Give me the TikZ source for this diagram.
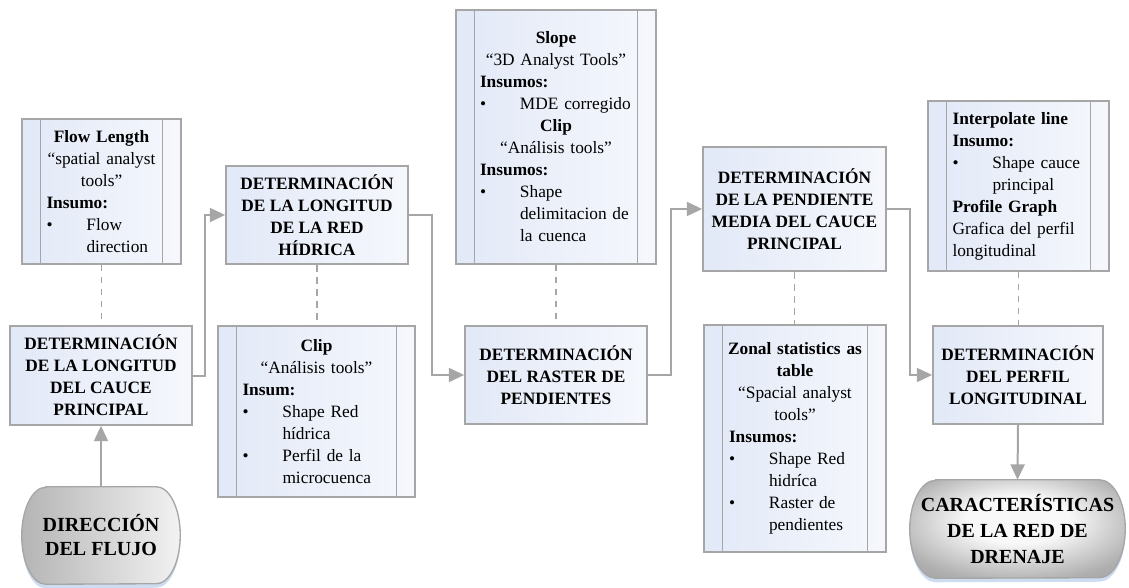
\documentclass[tikz,border=0pt]{standalone}
\usepackage{fontspec}
\setmainfont{Liberation Serif}
\usetikzlibrary{arrows.meta,shadows}

\definecolor{linegray}{RGB}{166,166,166}
\definecolor{boxblue}{RGB}{216,225,244}
\definecolor{glowblue}{RGB}{200,216,240}
\definecolor{termdark}{RGB}{150,150,150}
\definecolor{termedge}{RGB}{175,175,175}
\definecolor{termlight}{RGB}{248,248,248}

% left-to-right fills, declared horizontally so no rotation is involved
\pgfdeclarehorizontalshading{boxshade}{100bp}{color(0bp)=(boxblue); color(100bp)=(white)}
\pgfdeclarehorizontalshading{dirshade}{100bp}{color(0bp)=(termdark); color(80bp)=(termlight); color(100bp)=(termlight)}
% light centre slightly above the middle, grey rim
\pgfdeclareradialshading{carshade}{\pgfpoint{0bp}{6bp}}{color(0bp)=(termlight); color(12bp)=(termlight); color(30bp)=(termedge); color(45bp)=(termdark); color(60bp)=(termdark)}

% centred line, bullet item and continuation line inside the tool boxes
\newcommand\ctr[1]{\makebox[\hsize][c]{#1}}
\newcommand\bul[1]{\makebox[30pt][l]{\textbullet}#1}
\newcommand\cont[1]{\hspace*{30pt}#1}

\tikzset{
  mainbox/.style={draw=linegray, line width=1.3pt, shade, shading=boxshade,
    align=center, inner sep=0pt,
    font=\bfseries\fontsize{13}{16.5}\selectfont},
  toolbox/.style={draw=linegray, line width=1pt, shade, shading=boxshade,
    align=left, inner sep=0pt,
    font=\fontsize{13}{16.5}\selectfont},
  toolline/.style={draw=linegray, line width=1pt},
  termnode/.style={inner sep=0pt, align=center, font=\bfseries\fontsize{15}{18}\selectfont},
  termbase/.style={draw=linegray, line width=1pt,
    drop shadow={shadow xshift=0pt, shadow yshift=-3pt, fill=glowblue, opacity=0.9}},
  flowarrow/.style={draw=linegray, line width=1.5pt, -{Triangle[length=11.5pt,width=10.5pt]}},
  toollink/.style={draw=linegray, line width=1.2pt, dash pattern=on 5pt off 4pt},
}

\begin{document}
\begin{tikzpicture}[x=0.75pt, y=-0.75pt]
\useasboundingbox (0,0) rectangle (1129,588);

% ---- terminals (shapes drawn first, text nodes on top) ----
\node[termnode, minimum width=118.5pt, minimum height=72.75pt] (dir) at (101,535.5) {};
\path[termbase, shade, shading=dirshade]
  ([xshift=18pt]dir.north west) -- ([xshift=-18pt]dir.north east)
  arc[start angle=90, end angle=-90, x radius=18pt, y radius=36.375pt]
  -- ([xshift=18pt]dir.south west)
  arc[start angle=270, end angle=90, x radius=18pt, y radius=36.375pt] -- cycle;
\node[termnode] at (dir.center) {DIRECCIÓN\\DEL FLUJO};

\node[termnode, minimum width=161.25pt, minimum height=73.5pt] (car) at (1017.5,529) {};
\path[termbase, shade, shading=carshade]
  ([xshift=19.5pt]car.north west) -- ([xshift=-19.5pt]car.north east)
  arc[start angle=90, end angle=-90, x radius=19.5pt, y radius=36.75pt]
  -- ([xshift=19.5pt]car.south west)
  arc[start angle=270, end angle=90, x radius=19.5pt, y radius=36.75pt] -- cycle;
\node[termnode, font=\bfseries\fontsize{15}{19.5}\selectfont] at (car.center)
  {CARACTERÍSTICAS\\DE LA RED DE\\DRENAJE};

% ---- process boxes ----
\node[mainbox, minimum width=136.5pt, minimum height=74.25pt] (cauce) at (101,375.5)
  {DETERMINACIÓN\\DE LA LONGITUD\\DEL CAUCE\\PRINCIPAL};
\node[mainbox, minimum width=136.5pt, minimum height=73.5pt] (red) at (317,215)
  {DETERMINACIÓN\\DE LA LONGITUD\\DE LA RED\\HÍDRICA};
\node[mainbox, minimum width=136.5pt, minimum height=73.5pt] (raster) at (556,375)
  {DETERMINACIÓN\\DEL RASTER DE\\PENDIENTES};
\node[mainbox, minimum width=137.25pt, minimum height=93pt] (pend) at (794.5,209)
  {DETERMINACIÓN\\DE LA PENDIENTE\\MEDIA DEL CAUCE\\PRINCIPAL};
\node[mainbox, minimum width=127.5pt, minimum height=73.5pt] (perfil) at (1018,375)
  {DETERMINACIÓN\\DEL PERFIL\\LONGITUDINAL};

% ---- tool boxes ----
\node[toolbox, minimum width=119.25pt, minimum height=108.75pt, text width=82.5pt] (flow) at (101.5,191.5)
  {\ctr{\textbf{Flow Length}}\\
   \ctr{“spatial analyst}\\
   \ctr{tools”}\\
   \textbf{Insumo:}\\
   \bul{Flow}\\
   \cont{direction}};

\node[toolbox, minimum width=147.75pt, minimum height=128.25pt, text width=111pt] (clip) at (316.5,411.5)
  {\ctr{\textbf{Clip}}\\
   \ctr{“Análisis tools”}\\
   \textbf{Insum:}\\
   \bul{Shape Red}\\
   \cont{hídrica}\\
   \bul{Perfil de la}\\
   \cont{microcuenca}};

\node[toolbox, minimum width=150pt, minimum height=190.5pt, text width=114pt] (slope) at (556,137)
  {\ctr{\textbf{Slope}}\\
   \ctr{“3D Analyst Tools”}\\
   \textbf{Insumos:}\\
   \bul{MDE corregido}\\
   \ctr{\textbf{Clip}}\\
   \ctr{“Análisis tools”}\\
   \textbf{Insumos:}\\
   \bul{Shape}\\
   \cont{delimitacion de}\\
   \cont{la cuenca}};

\node[toolbox, minimum width=136.5pt, minimum height=170.25pt, text width=99pt] (zonal) at (795,438.5)
  {\ctr{\textbf{Zonal statistics as}}\\
   \ctr{\textbf{table}}\\
   \ctr{“Spacial analyst}\\
   \ctr{tools”}\\
   \textbf{Insumos:}\\
   \bul{Shape Red}\\
   \cont{hidríca}\\
   \bul{Raster de}\\
   \cont{pendientes}};

\node[toolbox, minimum width=135.75pt, minimum height=127.5pt, text width=99pt] (interp) at (1018.5,186)
  {\textbf{Interpolate line}\\
   \textbf{Insumo:}\\
   \bul{Shape cauce}\\
   \cont{principal}\\
   \textbf{Profile Graph}\\
   Grafica del perfil\\
   longitudinal};

% inner side bars of the tool boxes
\foreach \n in {flow,clip,slope,zonal,interp} {
  \draw[toolline] ([xshift=14.25pt]\n.north west) -- ([xshift=14.25pt]\n.south west)
                  ([xshift=-14.25pt]\n.north east) -- ([xshift=-14.25pt]\n.south east);
}

% ---- dashed links from tools to processes ----
\draw[toollink] (flow.south) -- (flow.south |- cauce.north);
\draw[toollink] (red.south) -- (red.south |- clip.north);
\draw[toollink] (slope.south) -- (slope.south |- raster.north);
\draw[toollink] (pend.south) -- (pend.south |- zonal.north);
\draw[toollink] (interp.south) -- (interp.south |- perfil.north);

% ---- main flow ----
\draw[flowarrow] (dir.north) -- (cauce.south);
\draw[flowarrow] (cauce.east) -- ++(12,0) |- (red.west);
\draw[flowarrow] (red.east) -- ++(23,0) |- (raster.west);
\draw[flowarrow] (raster.east) -- ++(23,0) |- (pend.west);
\draw[flowarrow] (pend.east) -- ++(23,0) |- (perfil.west);
\draw[flowarrow] (perfil.south) -- (car.north);
\end{tikzpicture}
\end{document}
